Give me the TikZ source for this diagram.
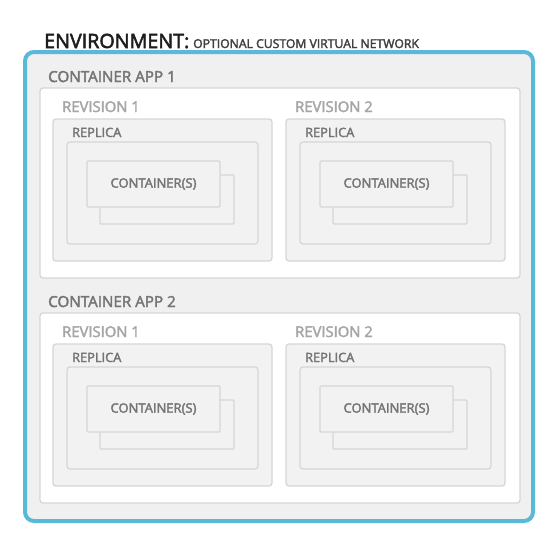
\documentclass[tikz,border=0pt]{standalone}
\usepackage{fontspec}
\setmainfont{Open Sans}
\newfontfamily\semifont{Open Sans}[FakeBold=2.6]

\definecolor{envblue}{HTML}{5AB8D8}
\definecolor{envfill}{HTML}{F0F0F0}
\definecolor{boxline}{HTML}{D6D6D6}
\definecolor{boxfill}{HTML}{F2F2F2}
\definecolor{darktext}{HTML}{1E1E1E}
\definecolor{midtext}{HTML}{757575}
\definecolor{lighttext}{HTML}{A6A6A6}

\tikzset{
  appbox/.style={draw=boxline, line width=1.3pt, rounded corners=3pt, fill=white},
  grbox/.style={draw=boxline, line width=1.3pt, rounded corners=3pt, fill=boxfill},
  ctbox/.style={draw=boxline, line width=1.1pt, rounded corners=1pt, fill=boxfill},
  lbl/.style={anchor=base west, inner sep=0pt}
}

\begin{document}
\begin{tikzpicture}[x=1pt,y=-1pt]

\useasboundingbox (0,0) rectangle (555,541);

% Environment
\draw[envblue, line width=4pt, rounded corners=9pt, fill=envfill]
(25,52)
rectangle
(533,521);

\node[lbl, text=darktext] (envtitle) at (44,48)
{\fontsize{19.7}{19.7}\semifont ENVIRONMENT:};

\node[lbl, text=darktext!85] (envnote) at (193,48)
{\fontsize{12.2}{12.2}\semifont OPTIONAL CUSTOM VIRTUAL NETWORK};

% Container apps
\foreach \app/\dy in {1/0, 2/225} {

  \draw[appbox]
  (40,88+\dy)
  rectangle
  (520,278+\dy);

  \node[lbl, text=midtext] (app\app) at (48,82+\dy)
  {\fontsize{15.2}{15.2}\semifont CONTAINER APP \app};

  % Revisions
  \foreach \rev/\dx in {1/0, 2/233} {

    \draw[grbox]
    (53+\dx,119+\dy)
    rectangle
    (272+\dx,261+\dy);

    \node[lbl, text=lighttext] (rev\app\rev) at (62+\dx,112+\dy)
    {\fontsize{14.8}{14.8}\semifont REVISION \rev};

    % Replica
    \draw[grbox]
    (67+\dx,142+\dy)
    rectangle
    (258+\dx,244+\dy);

    \node[lbl, text=midtext] (rep\app\rev) at (72+\dx,137+\dy)
    {\fontsize{12.8}{12.8}\semifont REPLICA};

    % Containers
    \draw[ctbox]
    (100+\dx,175+\dy)
    rectangle
    (234+\dx,224+\dy);

    \draw[ctbox]
    (87+\dx,161+\dy)
    rectangle
    (220+\dx,207+\dy);

    \node[text=midtext, inner sep=0pt] (cont\app\rev) at (153.5+\dx,184+\dy)
    {\fontsize{13}{13}\semifont CONTAINER(S)};
  }
}

\end{tikzpicture}
\end{document}
